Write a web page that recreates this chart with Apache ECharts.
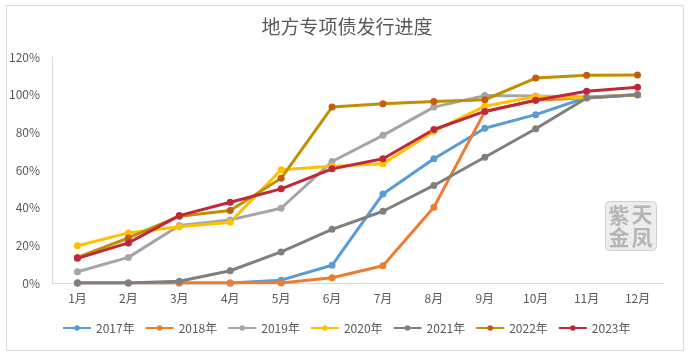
<!DOCTYPE html>
<html>
<head>
<meta charset="utf-8">
<script src="https://cdn.jsdelivr.net/npm/echarts@6/dist/echarts.min.js"></script>
<style>
  html, body { margin: 0; padding: 0; background: #fff; }
  #chart { width: 700px; height: 353px; }
</style>
</head>
<body>
<div id="chart"></div>
<script>
// 地方专项债发行进度（累计占比，%）
const months = ['1月', '2月', '3月', '4月', '5月', '6月', '7月', '8月', '9月', '10月', '11月', '12月'];
const yearNames = ['2017年', '2018年', '2019年', '2020年', '2021年', '2022年', '2023年'];
const y2017 = [0, 0, 0, 0, 1.5, 9.4, 47.3, 66, 82.2, 89.4, 98.5, 100];
const y2018 = [0, 0, 0, 0, 0, 2.8, 9.2, 40.2, 91, 97, 98.3, 100];
const y2019 = [6, 13.6, 30.5, 33.5, 39.7, 64.5, 78.4, 93.4, 99.5, 99.3, 98.8, 100];
const y2020 = [19.8, 26.6, 29.9, 32.3, 60.1, 62, 63.3, 80.6, 93.9, 99.1, 98.2, 100];
const y2021 = [0, 0, 0.9, 6.5, 16.5, 28.5, 38.1, 51.8, 66.8, 81.9, 98.2, 100];
const y2022 = [13.6, 23.9, 35.5, 38.5, 55.6, 93.4, 95.2, 96.4, 97.3, 108.8, 110.3, 110.4];
const y2023 = [13.1, 21.3, 35.8, 42.9, 50, 60.6, 66, 81.5, 91.1, 97, 101.8, 104];
const yTicks = [0, 20, 40, 60, 80, 100, 120];

const seriesData = [y2017, y2018, y2019, y2020, y2021, y2022, y2023];
const lineColors = ['#5B9BD5', '#ED7D31', '#A5A5A5', '#FFC000', '#7F7F7F', '#BF9000', '#C0283A'];
const dotColors = ['#5B9BD5', '#ED7D31', '#A5A5A5', '#FFC000', '#7F7F7F', '#C55A11', '#C0283A'];

const font = "'Noto Sans CJK SC', 'Noto Sans', sans-serif";
const chart = echarts.init(document.getElementById('chart'));

chart.setOption({
    animation: false,
    textStyle: { fontFamily: font },
    title: {
        text: '地方专项债发行进度',
        left: 342, textAlign: 'center', top: 12,
        textStyle: { fontSize: 19, fontWeight: 'normal', color: '#595959', fontFamily: font }
    },
    legend: {
        data: yearNames,
        left: 57, top: 317,
        itemWidth: 28, itemHeight: 7, itemGap: 10,
        textStyle: { fontSize: 12, color: '#595959' }
    },
    grid: { left: 52, right: 37, top: 57, bottom: 70 },
    xAxis: {
        type: 'category',
        data: months,
        axisLine: { lineStyle: { color: '#D9D9D9', width: 1 } },
        axisTick: { show: false },
        axisLabel: { color: '#595959', fontSize: 12, margin: 9 }
    },
    yAxis: {
        type: 'value',
        min: yTicks[0], max: yTicks[yTicks.length - 1], interval: 20,
        axisLine: { show: true, lineStyle: { color: '#D9D9D9', width: 1 } },
        axisTick: { show: false },
        splitLine: { show: false },
        axisLabel: { color: '#595959', fontSize: 12, margin: 12, formatter: '{value}%' }
    },
    graphic: [
        {
            type: 'rect', left: 4, top: 3, z: -10,
            shape: { width: 677, height: 345 },
            style: { fill: 'none', stroke: '#D9D9D9', lineWidth: 1 }
        },
        {
            type: 'group', left: 605, top: 201,
            children: [
                { type: 'rect', shape: { width: 51, height: 49, r: 4 },
                  style: { fill: '#EDEDED', stroke: '#D0D0D0', lineWidth: 1 } },
                { type: 'text', left: 3, top: 3, style: { text: '紫', fontSize: 21, fontWeight: 'bold', fill: '#B5B5B5', fontFamily: font } },
                { type: 'text', left: 26, top: 2, style: { text: '天', fontSize: 21, fontWeight: 'bold', fill: '#B5B5B5', fontFamily: font } },
                { type: 'text', left: 3, top: 25, style: { text: '金', fontSize: 21, fontWeight: 'bold', fill: '#B5B5B5', fontFamily: font } },
                { type: 'text', left: 26, top: 25, style: { text: '凤', fontSize: 21, fontWeight: 'bold', fill: '#B5B5B5', fontFamily: font } }
            ]
        }
    ],
    series: seriesData.map((d, i) => ({
        name: yearNames[i],
        type: 'line',
        data: d,
        symbol: 'circle',
        symbolSize: 7,
        lineStyle: { color: lineColors[i], width: 3 },
        itemStyle: { color: dotColors[i] },
        emphasis: { disabled: true }
    }))
});
</script>
</body>
</html>
